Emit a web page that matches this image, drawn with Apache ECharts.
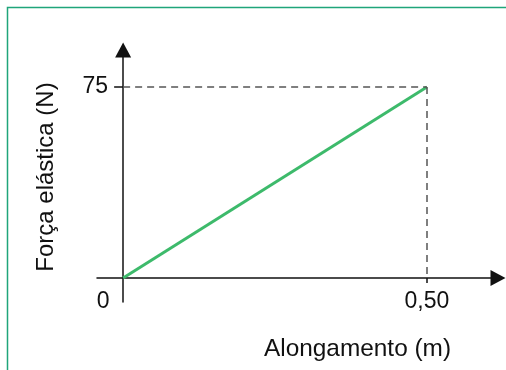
<!DOCTYPE html>
<html><head><meta charset="utf-8">
<script src="https://cdn.jsdelivr.net/npm/echarts@6/dist/echarts.min.js"></script>
<style>html,body{margin:0;padding:0;background:#fff}#c{width:506px;height:370px}</style>
</head><body><div id="c"></div>
<script>
const xValues = [0, 0.5];
const yValues = [0, 75];
const xTickValues = [0, 0.5];
const xTickLabels = ['0', '0,50'];
const yTickValues = [75];
const yTickLabels = ['75'];
const xTitle = 'Alongamento (m)';
const yTitle = 'Força elástica (N)';

const chart = echarts.init(document.getElementById('c'), null, {renderer: 'canvas'});
const font = 'Liberation Sans, Arial, sans-serif';
chart.setOption({
  animation: false,
  graphic: [{
    type: 'rect', shape: {x: 7.5, y: 7.5, width: 700, height: 700},
    style: {fill: 'none', stroke: '#1fa57a', lineWidth: 1.5}, silent: true
  }],
  grid: {left: 97, right: 8, top: 50, bottom: 68, containLabel: false, outerBoundsMode: 'none'},
  xAxis: {
    type: 'value', min: -0.043, max: 0.617,
    splitLine: {show: false},
    axisLine: {onZero: true, symbol: ['none', 'triangle'], symbolSize: [16, 15], lineStyle: {color: '#111', width: 1.5}},
    axisTick: {show: true, customValues: [0.5], length: 5, lineStyle: {color: '#111', width: 1.5}},
    axisLabel: {
      customValues: xTickValues, margin: -12, fontSize: 23, color: '#111', fontFamily: font,
      formatter: v => {
        const i = xTickValues.indexOf(v);
        if (i < 0) return '';
        return v === 0 ? '{z|' + xTickLabels[i] + '}' : xTickLabels[i];
      },
      rich: {z: {fontSize: 23, color: '#111', fontFamily: font, padding: [0, 40, 0, 0]}}
    },
    name: xTitle, nameLocation: 'middle', nameGap: 35,
    nameTextStyle: {fontSize: 24.4, color: '#111', fontFamily: font, padding: [0, 0, 0, 120]}
  },
  yAxis: {
    type: 'value', min: -9.4, max: 89.5,
    splitLine: {show: false},
    axisLine: {onZero: true, symbol: ['none', 'triangle'], symbolSize: [16, 15], lineStyle: {color: '#111', width: 1.5}},
    axisTick: {show: true, customValues: yTickValues, length: 9, lineStyle: {color: '#111', width: 1.5}},
    axisLabel: {
      customValues: yTickValues, margin: -11, fontSize: 23, color: '#111', fontFamily: font,
      formatter: v => { const i = yTickValues.indexOf(v); return i < 0 ? '' : yTickLabels[i]; }
    },
    name: yTitle, nameLocation: 'middle', nameGap: 39, nameRotate: 90,
    nameTextStyle: {fontSize: 24, color: '#111', fontFamily: font, padding: [0, 2, 0, 0]}
  },
  series: [{
    type: 'line', data: xValues.map((x, i) => [x, yValues[i]]),
    symbol: 'none', lineStyle: {color: '#3dba6b', width: 3},
    markLine: {
      silent: true, symbol: 'none', label: {show: false},
      lineStyle: {color: '#555', type: [7, 5], width: 1.5},
      data: [
        [{coord: [0, yValues[1]]}, {coord: [xValues[1], yValues[1]]}],
        [{coord: [xValues[1], yValues[1]]}, {coord: [xValues[1], 0]}]
      ]
    }
  }]
});
</script></body></html>
